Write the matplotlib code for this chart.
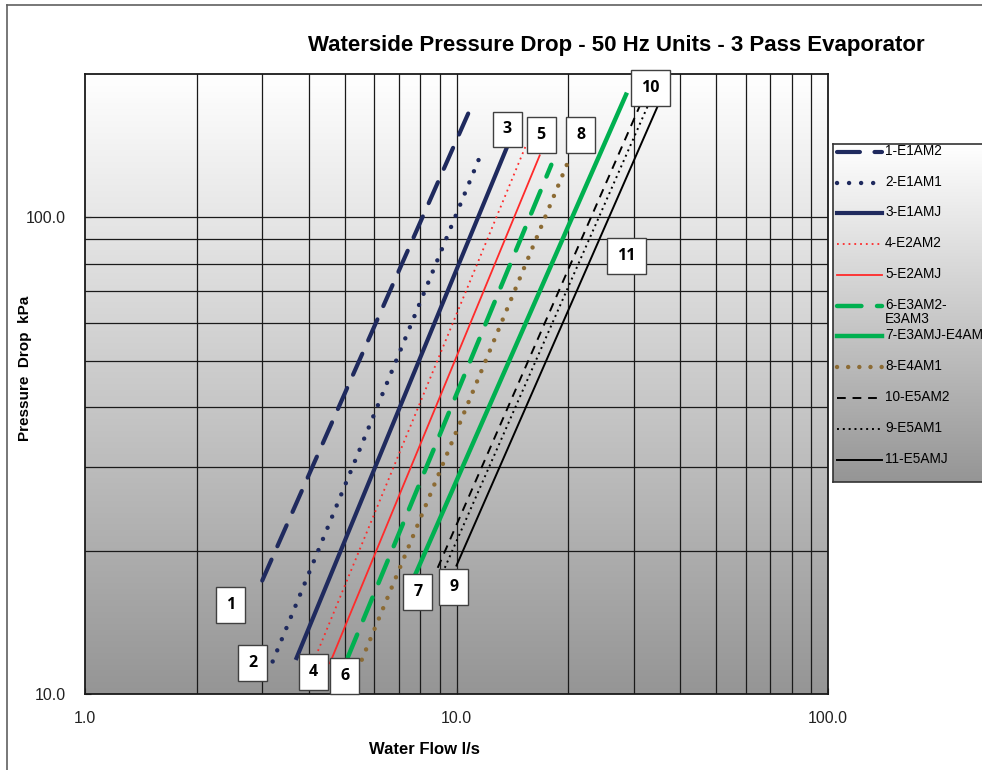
import numpy as np
import matplotlib
matplotlib.use("Agg")
import matplotlib.pyplot as plt
from matplotlib.ticker import FixedLocator, NullLocator

plt.rcParams['font.family'] = ['Liberation Sans', 'DejaVu Sans']

# series (flow l/s, pressure drop kPa at both ends)
names = ["1-E1AM2", "2-E1AM1", "3-E1AMJ", "4-E2AM2", "5-E2AMJ", "6-E3AM2-E3AM3",
         "7-E3AMJ-E4AM", "8-E4AM1", "10-E5AM2", "9-E5AM1", "11-E5AMJ"]
flow_lo = [3.0, 3.2, 3.71, 4.18, 4.56, 5.10, 7.77, 5.56, 8.9, 9.3, 10.0]
flow_hi = [11.0, 11.6, 13.65, 15.4, 16.75, 18.0, 28.6, 20.3, 31.3, 32.9, 35.0]
dp_lo = [17.3, 11.7, 11.9, 12.0, 11.6, 11.95, 17.9, 11.8, 18.4, 18.4, 18.6]
dp_hi = [172, 135, 140, 142, 135, 129, 181, 135, 173, 173, 173]

# numbered boxes on the chart
box_text = ["1", "2", "3", "4", "5", "6", "7", "8", "9", "10", "11"]
box_x = [2.47, 2.83, 13.7, 4.11, 16.9, 5.0, 7.87, 21.6, 9.83, 33.3, 28.7]
box_y = [15.4, 11.6, 153, 11.1, 149, 10.9, 16.4, 149, 16.8, 187, 82.9]

navy = "#1f2a5e"
red = "#ff2a2a"
green = "#00b050"
brown = "#8c6b34"
styles = [
    dict(color=navy, lw=3.0, ls=(0, (5.5, 3.5)), dash_capstyle='round'),
    dict(color=navy, lw=3.2, ls=(0, (0.01, 2.7)), dash_capstyle='round'),
    dict(color=navy, lw=3.0, ls='-'),
    dict(color=red, lw=1.3, ls=(0, (1, 2.2))),
    dict(color=red, lw=1.3, ls='-'),
    dict(color=green, lw=3.2, ls=(0, (5.5, 3.5)), dash_capstyle='round'),
    dict(color=green, lw=3.2, ls='-'),
    dict(color=brown, lw=3.2, ls=(0, (0.01, 2.5)), dash_capstyle='round'),
    dict(color="black", lw=1.4, ls=(0, (4.5, 3.5))),
    dict(color="black", lw=1.4, ls=(0, (1, 2.0))),
    dict(color="black", lw=1.4, ls='-'),
]

W, H = 982, 770
fig = plt.figure(figsize=(W / 100, H / 100), dpi=100)

# outer chart border (cropped)
fig.add_artist(plt.Line2D([7 / W, 7 / W], [0, 1 - 5 / H], color="#606060", lw=1.2))
fig.add_artist(plt.Line2D([7 / W, 1], [1 - 5 / H, 1 - 5 / H], color="#606060", lw=1.2))

ax = fig.add_axes([85 / W, 76 / H, (828 - 85) / W, (694 - 74) / H])
ax.set_xscale('log')
ax.set_yscale('log')
ax.set_xlim(1, 100)
ax.set_ylim(10, 200)

grad = np.linspace(1, 0, 256).reshape(-1, 1)
grad = 0.585 + 0.415 * grad
ax.imshow(np.dstack([grad, grad, grad]), extent=[0, 1, 0, 1], transform=ax.transAxes,
          aspect='auto', zorder=0, interpolation='bicubic')

xg = [2, 3, 4, 5, 6, 7, 8, 9, 10, 20, 30, 40, 50, 60, 70, 80, 90]
yg = [20, 30, 40, 50, 60, 70, 80, 90, 100]
for v in xg:
    ax.axvline(v, color="#1a1a1a", lw=0.9, zorder=1)
for v in yg:
    ax.axhline(v, color="#1a1a1a", lw=0.9, zorder=1)

for i in range(len(names)):
    ax.plot([flow_lo[i], flow_hi[i]], [dp_lo[i], dp_hi[i]], zorder=3, **styles[i])

for t, bx, by in zip(box_text, box_x, box_y):
    ax.text(bx, by, t, ha='center', va='center', fontsize=11.5, fontweight='bold',
            family=['Open Sans', 'DejaVu Sans'], zorder=5,
            bbox=dict(boxstyle='square,pad=0.62', fc='white', ec='#404040', lw=1))

ax.xaxis.set_major_locator(FixedLocator([1, 10, 100]))
ax.yaxis.set_major_locator(FixedLocator([10, 100]))
ax.xaxis.set_minor_locator(NullLocator())
ax.yaxis.set_minor_locator(NullLocator())
ax.set_xticklabels(["1.0", "10.0", "100.0"])
ax.set_yticklabels(["10.0", "100.0"])
ax.tick_params(axis='both', length=4, direction='in', labelsize=11.5, colors='#222222')
ax.tick_params(axis='x', pad=12)
ax.tick_params(axis='y', pad=14)
for s in ax.spines.values():
    s.set_linewidth(1.3)
    s.set_color('#1a1a1a')

fig.text(616 / W, 1 - 45 / H, "Waterside Pressure Drop - 50 Hz Units - 3 Pass Evaporator",
         ha='center', va='center', fontsize=16, fontweight='bold')
fig.text(25 / W, 1 - 368 / H, "Pressure  Drop  kPa", rotation=90, ha='center', va='center',
         fontsize=11, fontweight='bold')
fig.text(424 / W, 1 - 749 / H, "Water Flow l/s", ha='center', va='center',
         fontsize=12, fontweight='bold')

# legend, clipped by the right edge like the original
lax = fig.add_axes([833 / W, 1 - 482 / H, 300 / W, (482 - 144) / H])
lax.set_xlim(0, 300)
lax.set_ylim(338, 0)
lax.imshow(np.dstack([grad, grad, grad]), extent=[0, 1, 0, 1], transform=lax.transAxes,
           aspect='auto', zorder=0, interpolation='bicubic')
lax.set_xticks([])
lax.set_yticks([])
for s in lax.spines.values():
    s.set_linewidth(1.2)
    s.set_color('#333333')
entry_y = [8, 39, 69, 100, 131, 162, 192, 223, 254, 285, 316]
for i, name in enumerate(names):
    lax.plot([4, 49], [entry_y[i], entry_y[i]], **styles[i])
    label = name if i != 5 else "6-E3AM2-\nE3AM3"
    lax.text(52, entry_y[i] - 8, label, ha='left', va='top', fontsize=9.8, linespacing=1.0)

fig.savefig("out.png", dpi=100)
